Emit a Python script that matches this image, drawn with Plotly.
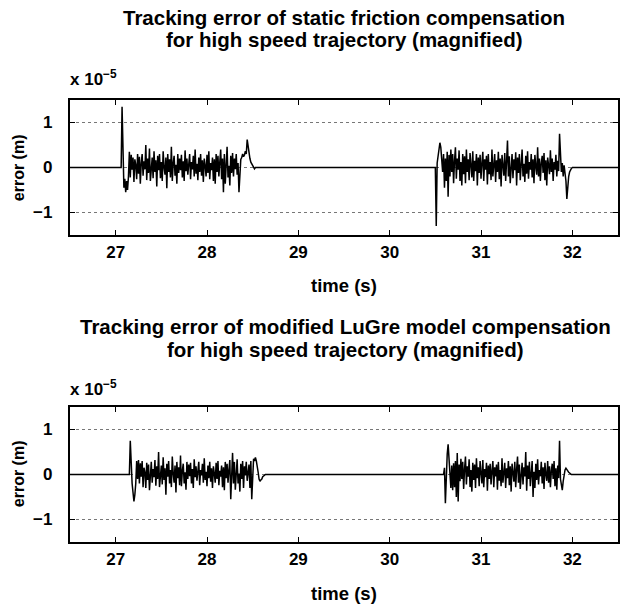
import numpy as np
import plotly.graph_objects as go

# ---------------- data (error values in units of 1e-5 m) ----------------
DT = 0.01
X_RANGE = [26.5, 32.5]
Y_RANGE = [-1.5, 1.5]
X_TICKS = [27, 28, 29, 30, 31, 32]
Y_TICKS = [-1, 0, 1]
Y_TICKTEXT = ["\u22121", "0", "1"]

# top plot: static friction compensation
TOP_B1_START = 27.05
TOP_B1 = [0, 0, 1.35, 0.30, -0.45, -0.25, -0.55, -0.30, -0.50, -0.20,
          0.35, -0.22, 0.28, -0.05, 0.22, -0.32, 0.18, 0.06, -0.26, 0.30,
          -0.14, 0.24, -0.36, 0.10, 0.30, -0.18, 0.14, -0.04, 0.50, -0.28,
          0.20, -0.12, 0.42, -0.30, 0.04, 0.22, -0.24, 0.36, -0.10, 0.16,
          -0.42, 0.26, -0.06, 0.30, -0.24, 0.12, -0.30, 0.36, 0.00, -0.16,
          0.22, -0.46, 0.30, -0.10, 0.18, -0.22, 0.46, -0.30, 0.10, 0.26,
          -0.18, 0.06, -0.36, 0.30, -0.12, 0.20, -0.06, 0.28, -0.22, 0.14,
          -0.30, 0.38, -0.08, 0.20, -0.16, 0.10, 0.30, -0.26, 0.12, -0.04,
          0.26, -0.20, 0.40, -0.14, 0.08, -0.28, 0.22, -0.10, 0.30, -0.18,
          0.16, -0.32, 0.20, 0.04, -0.20, 0.28, -0.12, 0.36, -0.26, 0.10,
          -0.06, 0.22, -0.30, 0.18, -0.36, 0.30, -0.10, 0.26, -0.20, 0.12,
          0.40, -0.26, 0.20, -0.55, 0.30, -0.36, 0.16, 0.46, -0.22, 0.04,
          -0.40, 0.26, -0.12, 0.32, -0.20, 0.20, -0.04, 0.30, -0.16, 0.10,
          -0.55, 0.04, 0.18, 0.22, 0.30, 0.24, 0.28, 0.36, 0.30, 0.62,
          0.45, 0.30, 0.20, 0.12, 0.07, 0.03, 0.01, -0.03, 0]
TOP_B2_START = 30.50
TOP_B2 = [0, -1.30, 0.10, 0.25, 0.40, 0.55, 0.45, 0.20, -0.10, 0.30,
          -0.45, 0.20, -0.30, 0.35, -0.65, 0.28, -0.20, 0.40, -0.10, 0.30,
          -0.35, 0.15, 0.45, -0.25, 0.20, -0.05, 0.38, -0.30, 0.12, -0.40,
          0.30, -0.15, 0.25, -0.35, 0.40, -0.10, 0.18, -0.28, 0.32, 0.05,
          -0.22, 0.36, -0.30, 0.15, -0.08, 0.30, -0.40, 0.22, -0.12, 0.28,
          -0.25, 0.10, 0.35, -0.30, 0.18, -0.05, 0.26, -0.38, 0.30, -0.15,
          0.12, -0.28, 0.40, -0.20, 0.08, 0.30, -0.32, 0.16, -0.10, 0.35,
          -0.26, 0.20, -0.42, 0.28, 0.05, -0.18, 0.32, -0.30, 0.14, 0.60,
          -0.20, 0.25, -0.35, 0.10, 0.30, -0.24, 0.18, -0.06, 0.34, -0.40,
          0.22, -0.12, 0.30, -0.28, 0.15, 0.40, -0.20, 0.08, -0.32, 0.26,
          -0.14, 0.36, -0.25, 0.12, -0.05, 0.30, -0.22, 0.18, -0.35, 0.28,
          0.02, -0.16, 0.45, -0.20, 0.20, -0.30, 0.10, 0.26, -0.12, 0.32,
          -0.28, 0.16, -0.40, 0.22, 0.05, -0.15, 0.38, -0.10, 0.20, -0.30,
          0.12, -0.05, 0.28, -0.20, 0.15, -0.08, 0.75, 0.05, -0.10, 0.10,
          -0.20, 0.05, -0.15, -0.30, -0.70, -0.40, -0.20, -0.10, -0.05, -0.02, 0]

# bottom plot: modified LuGre model compensation
BOT_B1_START = 27.15
BOT_B1 = [0, 0.75, 0.10, -0.20, -0.40, -0.60, -0.45, -0.20, 0.30, -0.10,
          0.32, -0.20, 0.25, -0.05, 0.30, -0.28, 0.15, 0.05, -0.30, 0.26,
          -0.12, 0.22, -0.35, 0.10, 0.28, -0.18, 0.12, -0.06, 0.32, -0.25,
          0.18, -0.10, 0.50, -0.28, 0.06, 0.20, -0.22, 0.38, -0.12, 0.14,
          -0.45, 0.24, -0.05, 0.30, -0.20, 0.10, -0.28, 0.40, 0.02, -0.18,
          0.20, -0.40, 0.28, -0.08, 0.16, -0.24, 0.42, -0.26, 0.08, 0.24,
          -0.20, 0.05, -0.34, 0.28, -0.10, 0.22, -0.04, 0.26, -0.20, 0.12,
          -0.30, 0.34, -0.06, 0.18, -0.14, 0.08, 0.28, -0.24, 0.10, -0.02,
          0.24, -0.18, 0.36, -0.12, 0.06, -0.26, 0.20, -0.08, 0.28, -0.16,
          0.14, -0.30, 0.18, 0.02, -0.18, 0.26, -0.10, 0.30, -0.24, 0.08,
          -0.05, 0.20, -0.28, 0.16, -0.35, 0.28, -0.08, 0.24, -0.18, 0.10,
          0.32, -0.55, 0.18, 0.48, -0.20, 0.28, -0.34, 0.14, 0.34, -0.20,
          0.02, -0.38, 0.24, -0.10, 0.30, -0.30, 0.18, -0.02, 0.28, -0.14,
          0.08, 0.22, -0.30, 0.30, -0.55, 0.20, 0.35, 0.30, 0.38, 0.30,
          0.20, 0.05, -0.10, -0.15, -0.12, -0.10, -0.05, -0.03, -0.01, 0]
BOT_B2_START = 30.59
BOT_B2 = [0, 0.15, -0.64, 0.20, 0.45, 0.67, 0.40, 0.10, -0.30, 0.20,
          -0.35, 0.25, -0.28, 0.30, -0.50, 0.48, -0.60, 0.22, -0.15, 0.35,
          -0.10, 0.28, -0.32, 0.12, 0.40, -0.22, 0.18, -0.05, 0.34, -0.28,
          0.10, -0.38, 0.26, -0.12, 0.22, -0.30, 0.36, -0.08, 0.16, -0.26,
          0.30, 0.04, -0.20, 0.32, -0.28, 0.12, -0.06, 0.26, -0.36, 0.20,
          -0.10, 0.24, -0.22, 0.08, 0.30, -0.28, 0.16, -0.04, 0.22, -0.34,
          0.28, -0.14, 0.10, -0.26, 0.36, -0.18, 0.06, 0.26, -0.30, 0.14,
          -0.08, 0.30, -0.24, 0.18, -0.38, 0.24, 0.04, -0.16, 0.28, -0.28,
          0.12, 0.40, -0.18, 0.22, -0.32, 0.08, 0.26, -0.22, 0.16, -0.04,
          0.50, -0.36, 0.20, -0.10, 0.28, -0.26, 0.12, 0.30, -0.50, 0.06,
          -0.30, 0.24, -0.12, 0.34, -0.22, 0.10, -0.04, 0.28, -0.20, 0.16,
          -0.32, 0.26, 0.00, -0.14, 0.30, -0.18, 0.18, -0.28, 0.08, 0.24,
          -0.10, 0.30, -0.26, 0.14, -0.34, 0.20, -0.08, 0.75, -0.10, -0.25,
          -0.35, -0.15, 0.00, 0.10, 0.14, 0.12, 0.08, 0.05, 0.03, 0.01, 0]


def build_series(bursts):
    xs, ys = [X_RANGE[0]], [0.0]
    for start, vals in bursts:
        xs.extend((start + DT * np.arange(len(vals))).tolist())
        ys.extend(vals)
    xs.append(X_RANGE[1])
    ys.append(0.0)
    return xs, ys


top_x, top_y = build_series([(TOP_B1_START, TOP_B1), (TOP_B2_START, TOP_B2)])
bot_x, bot_y = build_series([(BOT_B1_START, BOT_B1), (BOT_B2_START, BOT_B2)])

FONT = "Liberation Sans, Arial, Helvetica, sans-serif"

fig = go.Figure()
fig.add_trace(go.Scatter(x=top_x, y=top_y, mode="lines", xaxis="x", yaxis="y",
                         line=dict(color="black", width=1.5), showlegend=False,
                         hoverinfo="skip"))
fig.add_trace(go.Scatter(x=bot_x, y=bot_y, mode="lines", xaxis="x2", yaxis="y2",
                         line=dict(color="black", width=1.5), showlegend=False,
                         hoverinfo="skip"))

TOP_H = 442.0
top_dom = [(542 - 235) / TOP_H, 1.0]
bot_dom = [0.0, 135 / TOP_H]

TICKFONT = dict(family=FONT, size=17, color="black", weight="bold")
xcommon = dict(range=X_RANGE, tickvals=X_TICKS, ticks="inside", ticklen=5,
               tickcolor="black", showline=True, linecolor="black", linewidth=1.5,
               mirror="ticks", showgrid=False, zeroline=False,
               ticklabelstandoff=1, tickfont=TICKFONT)
ycommon = dict(range=Y_RANGE, tickvals=Y_TICKS, ticks="inside",
               ticklen=5, tickcolor="black", showline=True, linecolor="black",
               linewidth=1.5, mirror="ticks", showgrid=True, gridcolor="#777777",
               griddash="dot", gridwidth=1, zeroline=False, showticklabels=False)

fig.update_layout(
    width=624, height=607,
    margin=dict(l=70, r=4, t=100, b=65),
    paper_bgcolor="white", plot_bgcolor="white",
    xaxis=dict(domain=[0, 1], anchor="y", **xcommon),
    yaxis=dict(domain=top_dom, anchor="x", **ycommon),
    xaxis2=dict(domain=[0, 1], anchor="y2", **xcommon),
    yaxis2=dict(domain=bot_dom, anchor="x2", **ycommon),
)


def py(pix):
    return (542 - pix) / TOP_H


def px(pix):
    return (pix - 70) / 550.0


# y tick labels, placed on the axes' own scales
for yref in ["y", "y2"]:
    for val, txt in zip(Y_TICKS, Y_TICKTEXT):
        fig.add_annotation(text="<b>%s</b>" % txt, x=px(54), y=val, xref="paper", yref=yref,
                           xanchor="right", yanchor="middle", showarrow=False,
                           font=dict(family=FONT, size=17, color="black"))

anns = [
    ("Tracking error of static friction compensation", 345, 17, 20.5),
    ("for high speed trajectory (magnified)", 345, 39, 20.5),
    ("Tracking error of modified LuGre model compensation", 347, 326, 20.5),
    ("for high speed trajectory (magnified)", 347, 349, 20.5),
]
for text, x, y, s in anns:
    fig.add_annotation(text="<b>%s</b>" % text, x=px(x), y=py(y), xref="paper", yref="paper",
                       xanchor="center", yanchor="middle", showarrow=False,
                       font=dict(family=FONT, size=s, color="black"))
for text, y in [("time (s)", 285), ("time (s)", 593)]:
    fig.add_annotation(text="<b>%s</b>" % text, x=px(345), y=py(y), xref="paper", yref="paper",
                       xanchor="center", yanchor="middle", showarrow=False,
                       font=dict(family=FONT, size=18.5, color="black"))
for y in [168, 474]:
    fig.add_annotation(text="<b>error (m)</b>", x=px(18), y=py(y), xref="paper", yref="paper",
                       xanchor="center", yanchor="middle", showarrow=False, textangle=-90,
                       font=dict(family=FONT, size=16, color="black"))
for y in [78, 388]:
    fig.add_annotation(text="<b>x 10<sup>\u22125</sup></b>", x=px(68), y=py(y), xref="paper",
                       yref="paper", xanchor="left", yanchor="middle", showarrow=False,
                       font=dict(family=FONT, size=17, color="black"))

fig.write_html("out.html", config={"displayModeBar": False},
               post_script="document.body.style.margin='0';")
